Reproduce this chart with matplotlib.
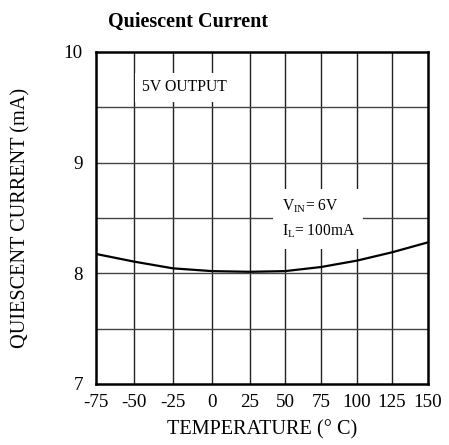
import numpy as np
import matplotlib
matplotlib.use("Agg")
import matplotlib.pyplot as plt

plt.rcParams['font.family'] = ['Liberation Serif', 'DejaVu Serif']
plt.rcParams['mathtext.fontset'] = 'custom'
plt.rcParams['mathtext.rm'] = 'Liberation Serif'
plt.rcParams['mathtext.it'] = 'Liberation Serif:italic'

# data
temperature = [-75, -50, -25, 0, 25, 50, 75, 100, 125, 150]
current_ma = [8.175, 8.106, 8.045, 8.02, 8.014, 8.02, 8.057, 8.115, 8.19, 8.28]
x_ticks = [-75, -50, -25, 0, 25, 50, 75, 100, 125, 150]
y_ticks = [7, 8, 9, 10]
y_grid = [7, 7.5, 8, 8.5, 9, 9.5, 10]
# the original chart's x grid is slightly uneven; relative positions of ticks
x_tick_pos = [96, 134, 173, 212, 250, 285, 321, 357, 392, 428]

fig = plt.figure(figsize=(4.49, 4.45), dpi=100)
ax = fig.add_axes([96/449, 1-384/445, (428-96)/449, (384-52)/445])

fwd = lambda x: np.interp(x, x_ticks, x_tick_pos)
inv = lambda p: np.interp(p, x_tick_pos, x_ticks)
ax.set_xscale('function', functions=(fwd, inv))

ax.plot(temperature, current_ma, color='black', lw=1.6, zorder=3)

ax.set_xlim(-75, 150)
ax.set_ylim(7, 10)
ax.set_xticks(x_ticks)
ax.set_xticklabels([str(t) for t in x_ticks])
ax.set_yticks(y_ticks)
ax.xaxis.set_minor_locator(matplotlib.ticker.NullLocator())
ax.yaxis.set_minor_locator(matplotlib.ticker.NullLocator())
for xv in x_ticks[1:-1]:
    ax.axvline(xv, color='#222222', lw=1.0, zorder=1)
for yv in y_grid[1:-1]:
    ax.axhline(yv, color='#444444', lw=1.0, zorder=1)

ax.tick_params(axis='both', which='both', length=0, labelsize=13.7)
ax.tick_params(axis='y', pad=9.5)
ax.tick_params(axis='x', pad=7)
for s in ax.spines.values():
    s.set_linewidth(1.8)

ax.set_xlabel('TEMPERATURE (° C)', fontsize=14.6)
ax.xaxis.label.set_va('center')
ax.xaxis.set_label_coords(0.5, (384-430)/332)
ax.set_ylabel('QUIESCENT CURRENT (mA)', fontsize=14.6)
ax.yaxis.label.set_va('center')
ax.yaxis.set_label_coords((21-96)/332, 0.5)
fig.text(188/449, 1-22/445, 'Quiescent Current', fontsize=14.5, fontweight='bold',
         ha='center', va='center')

ax.text(-45, 9.68, '5V OUTPUT', fontsize=11.3, ha='left', va='center', zorder=4,
        bbox=dict(facecolor='white', edgecolor='none', pad=5))
ax.text(47.5, 8.49, 'V$_{\\mathrm{IN}}$= 6V\nI$_{\\mathrm{L}}$= 100mA', fontsize=11.2,
        ha='left', va='center', linespacing=1.6, zorder=4,
        bbox=dict(facecolor='white', edgecolor='none', pad=6))

fig.savefig('out.png', dpi=100)
